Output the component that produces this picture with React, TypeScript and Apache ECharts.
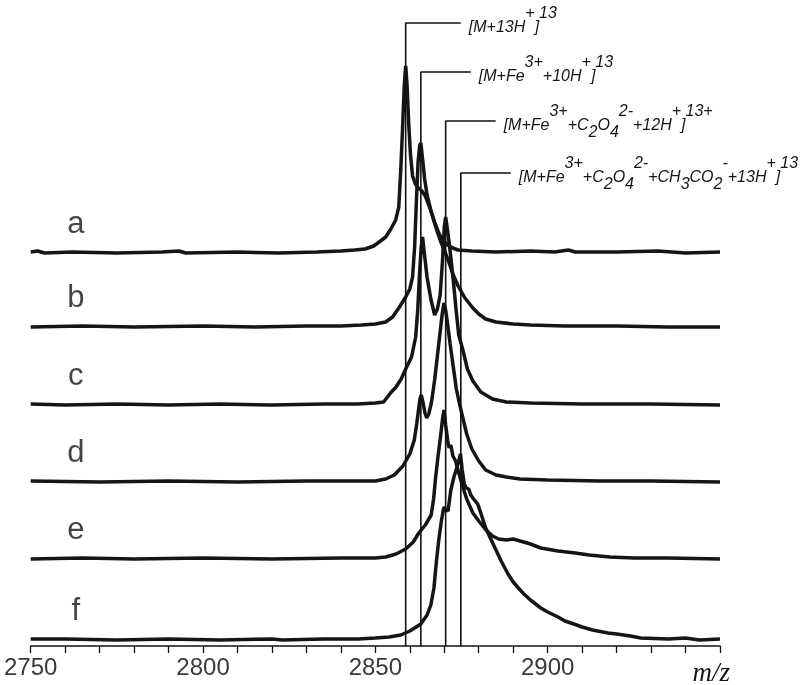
import React, { useEffect, useRef } from "react";
import * as echarts from "echarts";

// ---- data ----
const mzMin = 2750;
const mzMax = 2950;
const yMax = 640;
const xTickLabels = [2750, 2800, 2850, 2900];
const traceNames = ["a", "b", "c", "d", "e", "f"];
// vertical offset of each spectrum (same units as intensity)
const traceOffsets = [393, 319, 241, 164, 87, 6];
// where the trace letters sit (m/z, height above each baseline)
const nameMz = 2763.1;
const nameLift = 31;

const traceA: [number, number][] = [
  [2750, 1], [2752, 2], [2754, 0], [2762, 1], [2775, 0], [2788, 1], [2793, 2], [2795, 0], [2810, 1], [2822, 0],
  [2833, 1], [2840, 2], [2844, 3], [2847, 4], [2849.5, 7], [2851.5, 12], [2853, 16], [2854.5, 24], [2855.9, 33],
  [2856.8, 46], [2857.4, 85], [2857.9, 125], [2858.4, 168], [2858.8, 187], [2859.2, 168], [2859.7, 128],
  [2860.2, 98], [2860.8, 77], [2861.6, 69], [2862.5, 65], [2863.5, 62], [2864.5, 57], [2865.5, 48], [2866.5, 38],
  [2867.5, 28], [2868.5, 19], [2869.6, 13], [2871, 8], [2872.5, 5], [2874, 3], [2878, 2], [2885, 1], [2895, 2],
  [2902, 1], [2906, 3], [2908, 1], [2920, 1], [2932, 2], [2940, 0], [2950, 1],
];
const traceB: [number, number][] = [
  [2750, 0], [2765, 1], [2780, 0], [2800, 1], [2815, 0], [2830, 1], [2840, 1], [2846, 2], [2850, 3], [2853, 5],
  [2855, 10], [2857, 20], [2858.8, 30], [2860, 38], [2860.8, 50], [2861.4, 80], [2861.9, 125], [2862.4, 165],
  [2862.9, 182], [2863.2, 184], [2863.7, 168], [2864.3, 148], [2865, 132], [2866, 118], [2867, 106], [2868, 95],
  [2869, 85], [2870, 77], [2871, 68], [2872.5, 53], [2874, 41], [2876, 29], [2878.3, 19], [2880, 13], [2882, 8],
  [2885, 5], [2890, 3], [2895, 2], [2905, 1], [2920, 1], [2935, 0], [2950, 0],
];
const traceC: [number, number][] = [
  [2750, 1], [2760, 0], [2775, 1], [2790, 0], [2805, 1], [2820, 0], [2835, 1], [2845, 1], [2850, 2], [2852.4, 3],
  [2854.4, 12], [2856, 18], [2857.5, 26], [2858.8, 36], [2860.5, 48], [2861.7, 68], [2862.3, 95], [2862.8, 130],
  [2863.3, 158], [2863.7, 168], [2864.2, 152], [2865, 128], [2866.1, 106], [2867.2, 90], [2868, 96], [2868.8, 110],
  [2869.5, 145], [2870, 178], [2870.4, 188], [2870.9, 176], [2871.5, 160], [2872.2, 138], [2872.8, 118],
  [2873.4, 96], [2874.2, 70], [2875.4, 55], [2876.7, 36], [2878.3, 24], [2880.6, 13], [2884, 6], [2888, 3],
  [2895, 2], [2910, 1], [2930, 1], [2950, 0],
];
const traceD: [number, number][] = [
  [2750, 1], [2770, 0], [2790, 1], [2810, 0], [2830, 1], [2845, 1], [2850, 1], [2853, 3], [2855.5, 7], [2858, 16],
  [2860, 28], [2861.3, 42], [2862, 58], [2862.6, 74], [2863, 84], [2863.3, 87], [2863.8, 80], [2864.4, 69],
  [2864.9, 64], [2865.5, 68], [2866.3, 80], [2867.2, 102], [2868, 126], [2868.8, 150], [2869.4, 168], [2869.9, 179],
  [2870.4, 172], [2871, 157], [2871.7, 138], [2872.5, 118], [2873.5, 93], [2874.5, 77], [2875.4, 64], [2876.5, 48],
  [2878, 33], [2880, 21], [2882, 12], [2885, 7], [2888, 5], [2892, 3], [2900, 2], [2915, 1], [2930, 1], [2950, 0],
];
const traceE: [number, number][] = [
  [2750, 0], [2765, 1], [2780, 0], [2800, 1], [2820, 0], [2840, 1], [2850, 1], [2853, 2], [2856, 5], [2858.8, 10],
  [2861, 17], [2862.6, 26], [2864.5, 34], [2866.2, 44], [2866.9, 60], [2867.5, 82], [2868.2, 103], [2868.9, 122],
  [2869.5, 140], [2869.9, 149], [2870.4, 134], [2871, 118], [2871.4, 111], [2871.9, 114], [2872.5, 103],
  [2873.3, 98], [2874.2, 86], [2875.4, 72], [2876.5, 60], [2878.3, 46], [2880, 38], [2882.1, 29], [2884, 23],
  [2885.8, 20], [2888, 19], [2890, 20], [2892, 18], [2895, 15], [2898, 11], [2903, 8], [2908, 6], [2912, 4],
  [2918, 2], [2925, 1], [2935, 1], [2950, 0],
];
const traceF: [number, number][] = [
  [2750, 1], [2760, 1], [2775, 0], [2790, 1], [2805, 0], [2820, 1], [2823, 0], [2835, 1], [2845, 1], [2850, 2],
  [2854, 3], [2857.4, 5], [2860, 9], [2863.2, 16], [2865, 25], [2866.1, 35], [2867, 52], [2867.7, 78], [2868.4, 100],
  [2869.2, 120], [2869.9, 133], [2870.5, 130], [2871.1, 129], [2871.9, 150], [2872.8, 163], [2873.6, 172],
  [2874.2, 179], [2874.7, 186], [2875.2, 170], [2875.8, 156], [2876.4, 152], [2877.1, 151], [2877.7, 145],
  [2878.5, 141], [2879.7, 136], [2880.6, 127], [2882, 112], [2883.5, 101], [2885, 90], [2886.5, 79], [2888.5, 66],
  [2890, 58], [2891.5, 52], [2893.1, 46], [2895, 40], [2898, 32], [2900, 28], [2903, 23], [2905, 19], [2907.6, 16],
  [2910, 13], [2913, 10], [2917.5, 7], [2920, 6], [2924, 4], [2927, 2], [2935, 1], [2940, 2], [2944, 0], [2950, 1],
];
const traces = [traceA, traceB, traceC, traceD, traceE, traceF];

// peak assignments (m/z), height of the leader line (same units), stub length (m/z)
const annotationMz = [2858.8, 2863.2, 2870.4, 2874.8];
const annotationTop = [623, 574, 525, 473];
const annotationStub = [16, 14.5, 14.5, 14.5];
// n = normal, p = superscript, b = subscript
const annotationTexts = [
  "{n|[M+13H}{p|+}{n|]}{p|13}",
  "{n|[M+Fe}{p|3+}{n|+10H}{p|+}{n|]}{p|13}",
  "{n|[M+Fe}{p|3+}{n|+C}{b|2}{n|O}{b|4}{p|2-}{n|+12H}{p|+}{n|]}{p|13+}",
  "{n|[M+Fe}{p|3+}{n|+C}{b|2}{n|O}{b|4}{p|2-}{n|+CH}{b|3}{n|CO}{b|2}{p|-}{n|+13H}{p|+}{n|]}{p|13}",
];

const ink = "#151515";
const tokenBase = {
  fontSize: 16,
  fontStyle: "italic",
  fontFamily: "Liberation Sans",
  color: ink,
  verticalAlign: "bottom",
};
const rich = {
  n: { ...tokenBase, padding: [0, 0, 7, 0] },
  p: { ...tokenBase, padding: [0, 0, 21, 0] },
  b: { ...tokenBase, padding: [0, 0, 0, 0] },
};

export default function App() {
  const ref = useRef<HTMLDivElement>(null);
  useEffect(() => {
    const chart = echarts.init(ref.current!, undefined, { renderer: "svg" });

    const traceSeries = traces.map((t, i) => ({
      type: "line",
      data: t.map(([m, h]) => [m, h + traceOffsets[i]]),
      symbol: "none",
      lineStyle: { color: ink, width: 3.5 },
    }));
    const annSeries = annotationMz.map((m, i) => ({
      type: "line",
      data: [
        [m, 0],
        [m, annotationTop[i]],
        [m + annotationStub[i], annotationTop[i]],
      ],
      symbol: "none",
      lineStyle: { color: "#111", width: 1.6 },
      endLabel: {
        show: true,
        formatter: () => annotationTexts[i],
        rich,
        distance: 8,
        align: "left",
        verticalAlign: "middle",
        offset: [0, -0.5],
      },
    }));
    const nameSeries = {
      type: "scatter",
      symbol: "circle",
      symbolSize: 1,
      itemStyle: { color: "rgba(0,0,0,0)" },
      data: traceNames.map((n, i) => ({ name: n, value: [nameMz, traceOffsets[i] + nameLift] })),
      label: {
        show: true,
        position: "inside",
        formatter: "{b}",
        fontSize: 31,
        fontFamily: "Liberation Sans",
        color: ink,
      },
    };

    chart.setOption({
      animation: false,
      grid: { left: 30.7, right: 80, top: 6, bottom: 39 },
      xAxis: {
        type: "value",
        min: mzMin,
        max: mzMax,
        interval: 10,
        axisLine: { show: true, lineStyle: { color: "#111", width: 1.5 } },
        axisTick: { show: true, length: 7, lineStyle: { color: "#111", width: 1.3 } },
        splitLine: { show: false },
        axisLabel: {
          fontSize: 24,
          color: "#3a3a3a",
          formatter: (v: number) => (xTickLabels.indexOf(v) >= 0 ? String(v) : ""),
        },
        name: "m/z",
        nameLocation: "end",
        nameGap: 10,
        nameTextStyle: {
          fontSize: 27,
          fontStyle: "italic",
          fontFamily: "Liberation Serif",
          color: ink,
          align: "right",
          verticalAlign: "top",
          padding: [12, 0, 0, 0],
        },
      },
      yAxis: { type: "value", min: 0, max: yMax, show: false },
      series: [...traceSeries, ...annSeries, nameSeries],
    });
    return () => chart.dispose();
  }, []);
  return <div ref={ref} style={{ position: "fixed", left: 0, top: 0, width: 800, height: 685 }} />;
}
